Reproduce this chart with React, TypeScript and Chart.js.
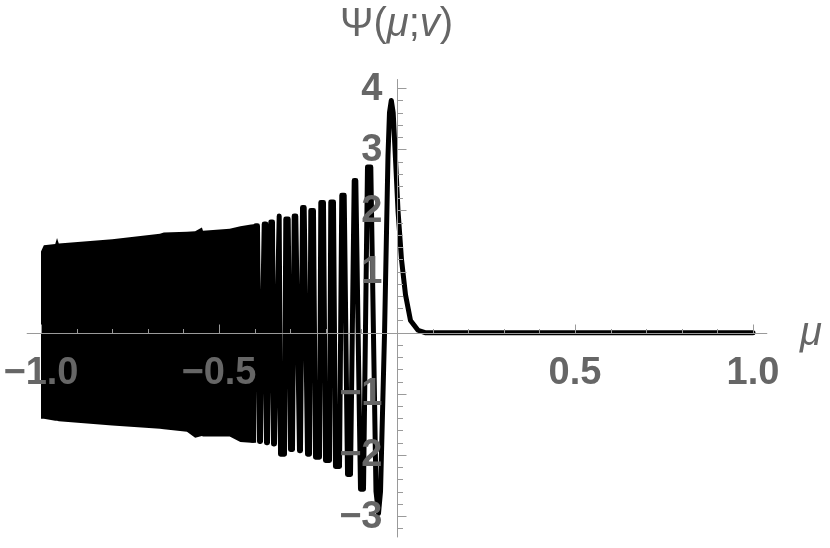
import React, { useEffect, useRef } from 'react';
import { Chart, registerables } from 'chart.js';

Chart.register(...registerables);

// Dense (fully black) oscillation band: outer envelope
const bandMu = [-1.0, -0.992, -0.96, -0.955, -0.95, -0.8, -0.666, -0.655, -0.59, -0.567, -0.548, -0.545, -0.47, -0.44, -0.41, -0.395];
const bandUpper = [1.33, 1.43, 1.45, 1.55, 1.46, 1.53, 1.62, 1.64, 1.65, 1.66, 1.72, 1.67, 1.7, 1.74, 1.77, 1.78];
const bandLower = [-1.41, -1.41, -1.44, -1.44, -1.45, -1.52, -1.57, -1.58, -1.62, -1.72, -1.69, -1.7, -1.7, -1.79, -1.8, -1.8];

// Resolved oscillations (two points per flat-topped lobe), main lobe and tail
const curveMu = [
  -0.4059, -0.4031, -0.3966, -0.3919, -0.3862, -0.3834, -0.373, -0.3685, -0.3666, -0.3638,
  -0.3545, -0.3497, -0.3469, -0.3441, -0.3309, -0.3272, -0.316, -0.3124, -0.3056, -0.2992,
  -0.2935, -0.2888, -0.2843, -0.2739, -0.2711, -0.2654, -0.2607, -0.2514, -0.2458, -0.2421,
  -0.2346, -0.2289, -0.2177, -0.214, -0.2065, -0.2008, -0.1896, -0.186, -0.1784, -0.1728,
  -0.1615, -0.1551, -0.1483, -0.139, -0.1306, -0.1202, -0.1157, -0.1025, -0.0941, -0.0829,
  -0.0736, -0.059, -0.052, -0.0463, -0.035, -0.0253, -0.0211, -0.016, -0.0107, -0.0042,
  0.0028, 0.0126, 0.0239, 0.0379, 0.059, 0.0787, 1.0,
];
const curvePsi = [
  -1.76, -1.76, 1.75, 1.75, -1.78, -1.78, 1.78, 1.78, -1.8, -1.8,
  1.81, 1.81, -1.82, -1.82, 1.91, -1.99, -1.99, 1.86, 1.86, -1.91,
  -1.91, 1.91, 1.91, -1.93, -1.93, 2.05, 2.05, -1.99, -1.99, 2.0,
  2.0, -2.04, -2.04, 2.13, 2.13, -2.09, -2.09, 2.14, 2.14, -2.19,
  -2.19, 2.25, 2.25, -2.32, -2.32, 2.49, 2.49, -2.56, -2.56, 2.71,
  2.71, -2.6, -2.96, -2.6, 0.0, 2.9, 3.6, 3.8, 3.6, 2.84,
  2.0, 1.2, 0.62, 0.2, 0.04, 0.0, 0.0,
];

// Axes ticks
const xTickValues = [-1.0, -0.9, -0.8, -0.7, -0.6, -0.5, -0.4, -0.3, -0.2, -0.1, 0.1, 0.2, 0.3, 0.4, 0.5, 0.6, 0.7, 0.8, 0.9, 1.0];
const xMajorTicks = [-1.0, -0.5, 0.5, 1.0];
const xTickLabels = ['\u22121.0', '\u22120.5', '0.5', '1.0'];
const yTickValues = [-3.2, -3.0, -2.8, -2.6, -2.4, -2.2, -2.0, -1.8, -1.6, -1.4, -1.2, -1.0, -0.8, -0.6, -0.4, -0.2, 0.2, 0.4, 0.6, 0.8, 1.0, 1.2, 1.4, 1.6, 1.8, 2.0, 2.2, 2.4, 2.6, 2.8, 3.0, 3.2, 3.4, 3.6, 3.8, 4.0];
const yMajorTicks = [-3, -2, -1, 1, 2, 3, 4];
const yTickLabels = ['\u22123', '\u22122', '\u22121', '1', '2', '3', '4'];

const AXIS_COLOR = '#9a9a9a';
const LABEL_COLOR = '#666666';
const FONT = '"Liberation Sans", Arial, sans-serif';

const axesPlugin = {
  id: 'mmaAxes',
  afterDatasetsDraw(chart: any) {
    const { ctx, chartArea, scales } = chart;
    const xs = scales.x;
    const ys = scales.y;
    const x0 = Math.round(xs.getPixelForValue(0)) + 0.5;
    const y0 = Math.round(ys.getPixelForValue(0)) + 0.5;
    ctx.save();
    ctx.strokeStyle = AXIS_COLOR;
    ctx.lineWidth = 1;
    ctx.beginPath();
    ctx.moveTo(chartArea.left, y0);
    ctx.lineTo(chartArea.right, y0);
    ctx.moveTo(x0, chartArea.top);
    ctx.lineTo(x0, chartArea.bottom);
    xTickValues.forEach((v) => {
      const px = Math.round(xs.getPixelForValue(v)) + 0.5;
      const len = xMajorTicks.includes(v) ? 9 : 4.5;
      ctx.moveTo(px, y0);
      ctx.lineTo(px, y0 - len);
    });
    yTickValues.forEach((v) => {
      const py = Math.round(ys.getPixelForValue(v)) + 0.5;
      const len = yMajorTicks.includes(v) ? 9 : 5.5;
      ctx.moveTo(x0, py);
      ctx.lineTo(x0 + len, py);
    });
    ctx.stroke();

    ctx.fillStyle = LABEL_COLOR;
    ctx.font = 'bold 38px ' + FONT;
    ctx.textBaseline = 'alphabetic';
    ctx.textAlign = 'center';
    xMajorTicks.forEach((v, i) => {
      ctx.fillText(xTickLabels[i], xs.getPixelForValue(v), y0 + 50);
    });
    ctx.textAlign = 'right';
    yMajorTicks.forEach((v, i) => {
      ctx.fillText(yTickLabels[i], x0 - 15, ys.getPixelForValue(v) + 11.5);
    });

    // axis labels
    ctx.textAlign = 'left';
    const parts: [string, boolean][] = [['\u03A8(', false], ['\u03BC', true], [';', false], ['v', true], [')', false]];
    let tx = 340;
    parts.forEach(([t, it]) => {
      ctx.font = (it ? 'italic ' : '') + '40px ' + FONT;
      ctx.fillText(t, tx, 36);
      tx += ctx.measureText(t).width;
    });
    ctx.font = 'italic 40px ' + FONT;
    ctx.fillText('\u03BC', 800, 345);
    ctx.restore();
  },
};

export default function App() {
  const ref = useRef<HTMLCanvasElement | null>(null);
  useEffect(() => {
    if (!ref.current) return;
    const chart = new Chart(ref.current, {
      type: 'line',
      data: {
        datasets: [
          {
            data: bandMu.map((m, i) => ({ x: m, y: bandUpper[i] })),
            borderWidth: 0,
            borderColor: '#000',
            pointRadius: 0,
            fill: false,
            tension: 0,
          },
          {
            data: bandMu.map((m, i) => ({ x: m, y: bandLower[i] })),
            borderWidth: 0,
            borderColor: '#000',
            backgroundColor: '#000',
            pointRadius: 0,
            fill: '-1',
            tension: 0,
          },
          {
            data: curveMu.map((m, i) => ({ x: m, y: curvePsi[i] })),
            borderWidth: 5,
            borderColor: '#000',
            borderJoinStyle: 'round',
            borderCapStyle: 'round',
            pointRadius: 0,
            fill: false,
            tension: 0,
          },
        ],
      },
      options: {
        animation: false,
        responsive: false,
        devicePixelRatio: 1,
        layout: { padding: { left: 26.76, right: 62.76, top: 79.1, bottom: 10.6 } },
        plugins: { legend: { display: false }, tooltip: { enabled: false } },
        scales: {
          x: { type: 'linear', min: -1.04, max: 1.04, display: false },
          y: { type: 'linear', min: -3.35, max: 4.15, display: false },
        },
      },
      plugins: [axesPlugin],
    } as any);
    return () => chart.destroy();
  }, []);
  return (
    <div style={{ position: 'absolute', left: 0, top: 0, width: 830, height: 548, background: '#fff' }}>
      <canvas ref={ref} width={830} height={548} />
    </div>
  );
}
